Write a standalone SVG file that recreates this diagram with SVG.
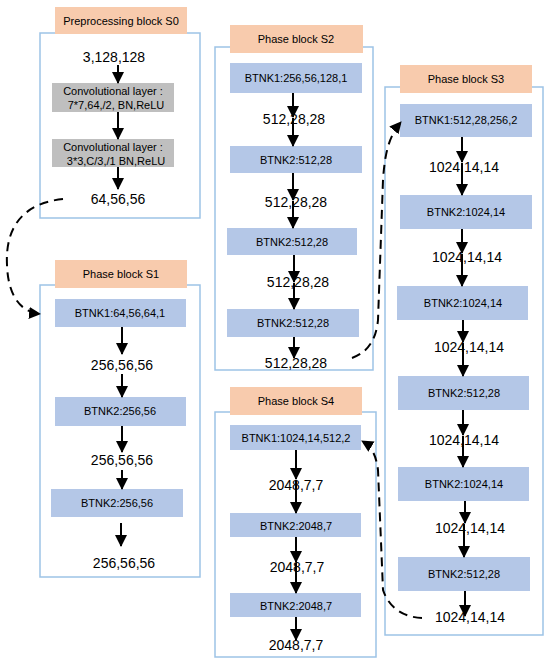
<svg xmlns="http://www.w3.org/2000/svg" width="550" height="663" viewBox="0 0 550 663">
<defs>
<marker id="ah" markerUnits="userSpaceOnUse" markerWidth="12" markerHeight="12" viewBox="0 0 12 12" refX="11" refY="6" orient="auto">
<path d="M0,0 L12,6 L0,12 Z" fill="#000"/>
</marker>
<style>
.frame{fill:#fff;stroke:#9DC3E6;stroke-width:1.5}
.hdr{fill:#F8CBAD}
.blue{fill:#B4C7E7}
.gray{fill:#BFBFBF}
.t{font-family:"Liberation Sans",Arial,sans-serif;font-size:11px;fill:#000;text-anchor:middle}
.d{font-family:"Liberation Sans",Arial,sans-serif;font-size:14px;fill:#000;text-anchor:middle}
.a{stroke:#000;stroke-width:2;fill:none;marker-end:url(#ah)}
.dash{stroke:#000;stroke-width:2;fill:none;stroke-dasharray:9,6;marker-end:url(#ah)}
</style>
</defs>
<rect width="550" height="663" fill="#fff"/>

<g id="S0">
<rect class="frame" x="40" y="33" width="160" height="185"/>
<rect class="hdr" x="55" y="7" width="132" height="27"/>
<text class="t" x="121" y="25">Preprocessing block S0</text>
<text class="d" x="114" y="62">3,128,128</text>
<rect class="gray" x="52" y="83" width="122" height="29"/>
<text class="t" x="113" y="95">Convolutional layer :</text>
<text class="t" x="116" y="109">7*7,64,/2, BN,ReLU</text>
<rect class="gray" x="52" y="139" width="122" height="28"/>
<text class="t" x="113" y="151">Convolutional layer :</text>
<text class="t" x="116" y="165">3*3,C/3,/1 BN,ReLU</text>
<text class="d" x="118" y="204">64,56,56</text>
</g>

<g id="S1">
<rect class="frame" x="40" y="285" width="160" height="292"/>
<rect class="hdr" x="55" y="260" width="132" height="28"/>
<text class="t" x="121" y="278">Phase block S1</text>
<rect class="blue" x="55" y="299" width="131" height="28"/>
<text class="t" x="120" y="317">BTNK1:64,56,64,1</text>
<text class="d" x="122" y="370">256,56,56</text>
<rect class="blue" x="55" y="397" width="131" height="29"/>
<text class="t" x="120" y="415">BTNK2:256,56</text>
<text class="d" x="122" y="465">256,56,56</text>
<rect class="blue" x="51" y="489" width="132" height="28"/>
<text class="t" x="117" y="507">BTNK2:256,56</text>
<text class="d" x="124" y="568">256,56,56</text>
</g>

<g id="S2">
<rect class="frame" x="215" y="47" width="158" height="323"/>
<rect class="hdr" x="230" y="25" width="133" height="28"/>
<text class="t" x="296" y="43">Phase block S2</text>
<rect class="blue" x="230" y="63" width="132" height="30"/>
<text class="t" x="296" y="82">BTNK1:256,56,128,1</text>
<text class="d" x="294" y="124">512,28,28</text>
<rect class="blue" x="230" y="146" width="132" height="27"/>
<text class="t" x="296" y="164">BTNK2:512,28</text>
<text class="d" x="296" y="207">512,28,28</text>
<rect class="blue" x="227" y="228" width="130" height="27"/>
<text class="t" x="292" y="246">BTNK2:512,28</text>
<text class="d" x="298" y="287">512,28,28</text>
<rect class="blue" x="227" y="309" width="132" height="28"/>
<text class="t" x="293" y="327">BTNK2:512,28</text>
<text class="d" x="296" y="368">512,28,28</text>
</g>

<g id="S3">
<rect class="frame" x="385" y="87" width="158" height="548"/>
<rect class="hdr" x="400" y="65" width="132" height="28"/>
<text class="t" x="466" y="83">Phase block S3</text>
<rect class="blue" x="400" y="104" width="132" height="33"/>
<text class="t" x="466" y="124">BTNK1:512,28,256,2</text>
<text class="d" x="464" y="172">1024,14,14</text>
<rect class="blue" x="400" y="195" width="132" height="34"/>
<text class="t" x="466" y="216">BTNK2:1024,14</text>
<text class="d" x="467" y="262">1024,14,14</text>
<rect class="blue" x="397" y="286" width="131" height="34"/>
<text class="t" x="463" y="307">BTNK2:1024,14</text>
<text class="d" x="469" y="352">1024,14,14</text>
<rect class="blue" x="398" y="376" width="131" height="34"/>
<text class="t" x="464" y="397">BTNK2:512,28</text>
<text class="d" x="464" y="445">1024,14,14</text>
<rect class="blue" x="398" y="467" width="131" height="34"/>
<text class="t" x="464" y="488">BTNK2:1024,14</text>
<text class="d" x="470" y="533">1024,14,14</text>
<rect class="blue" x="398" y="557" width="132" height="34"/>
<text class="t" x="464" y="578">BTNK2:512,28</text>
<text class="d" x="470" y="622">1024,14,14</text>
</g>

<g id="S4">
<rect class="frame" x="215" y="412" width="161" height="245"/>
<rect class="hdr" x="230" y="387" width="132" height="28"/>
<text class="t" x="296" y="405">Phase block S4</text>
<rect class="blue" x="230" y="425" width="131" height="25"/>
<text class="t" x="296" y="442">BTNK1:1024,14,512,2</text>
<text class="d" x="296" y="490">2048,7,7</text>
<rect class="blue" x="230" y="513" width="131" height="24"/>
<text class="t" x="296" y="530">BTNK2:2048,7</text>
<text class="d" x="297" y="572">2048,7,7</text>
<rect class="blue" x="230" y="593" width="131" height="24"/>
<text class="t" x="296" y="610">BTNK2:2048,7</text>
<text class="d" x="296" y="650">2048,7,7</text>
</g>

<g id="connectors">
<path class="a" d="M118 65 V83"/>
<path class="a" d="M118 112 V139"/>
<path class="a" d="M118 167 V189"/>

<path class="a" d="M122 327 V354"/>
<path class="a" d="M122 374 V397"/>
<path class="a" d="M122 426 V452"/>
<path class="a" d="M122 470 V489"/>
<path class="a" d="M121 523 V546"/>

<path class="a" d="M293 93 V117"/>
<path class="a" d="M293 118 V146"/>
<path class="a" d="M293 173 V200"/>
<path class="a" d="M293 201 V228"/>
<path class="a" d="M294 255 V282"/>
<path class="a" d="M294 283 V309"/>
<path class="a" d="M294 337 V358"/>

<path class="a" d="M462 137 V162"/>
<path class="a" d="M462 163 V195"/>
<path class="a" d="M462 229 V253"/>
<path class="a" d="M462 254 V286"/>
<path class="a" d="M463 320 V342"/>
<path class="a" d="M463 343 V376"/>
<path class="a" d="M463 410 V435"/>
<path class="a" d="M463 436 V467"/>
<path class="a" d="M465 501 V523"/>
<path class="a" d="M464 524 V557"/>
<path class="a" d="M465 591 V616"/>

<path class="a" d="M296 450 V479"/>
<path class="a" d="M296 480 V513"/>
<path class="a" d="M296 537 V562"/>
<path class="a" d="M296 563 V593"/>
<path class="a" d="M296 617 V640"/>

<path class="dash" d="M63 199 C25 203, 5 225, 7 265 C8 295, 20 312, 40 314"/>
<path class="dash" d="M352 358 C368 352, 376 340, 378 320 L383 180 C385 150, 390 135, 401 122"/>
<path class="dash" d="M422 618 C400 617, 388 605, 383 590 L378 470 C376 455, 372 447, 362 441"/>
</g>
</svg>
